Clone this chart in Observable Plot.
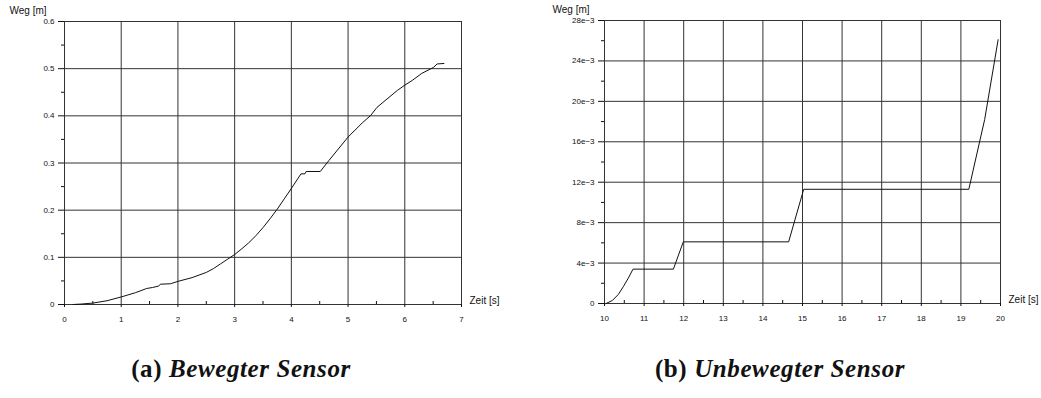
<!DOCTYPE html>
<html><head><meta charset="utf-8">
<script src="https://cdn.jsdelivr.net/npm/d3@7"></script>
<script src="https://cdn.jsdelivr.net/npm/@observablehq/plot@0.6"></script>
<style>
body{margin:0;background:#fff;}
#wrap{position:relative;width:1041px;height:398px;overflow:hidden;background:#fff;}
.p{position:absolute;top:0;}
.cap{position:absolute;top:355px;font-family:"Liberation Serif","Times New Roman",serif;font-weight:bold;font-size:25px;letter-spacing:0.6px;white-space:nowrap;transform:translateX(-50%);color:#111;}
.cap i{font-style:italic;}
</style></head><body>
<div id="wrap">
<div id="a" class="p" style="left:0"></div>
<div id="b" class="p" style="left:520px"></div>
<div class="cap" style="left:241px">(a) <i>Bewegter Sensor</i></div>
<div class="cap" style="left:780px">(b) <i>Unbewegter Sensor</i></div>
</div>
<script>
// ---- data: (a) Bewegter Sensor ----
const timeA = [0.15, 0.3, 0.5, 0.75, 1.0, 1.25, 1.45, 1.55, 1.66, 1.69, 1.87, 2.0, 2.25, 2.5, 2.625, 2.75, 2.875, 3.0, 3.125, 3.25, 3.375, 3.5, 3.625, 3.75, 3.875, 4.0, 4.17, 4.24, 4.26, 4.51, 4.66, 5.0, 5.25, 5.4, 5.51, 5.87, 6.0, 6.13, 6.3, 6.51, 6.57, 6.69];
const wegA  = [0, 0.001, 0.003, 0.008, 0.016, 0.025, 0.034, 0.036, 0.039, 0.043, 0.044, 0.049, 0.057, 0.068, 0.076, 0.086, 0.096, 0.106, 0.118, 0.131, 0.146, 0.163, 0.182, 0.202, 0.224, 0.246, 0.277, 0.277, 0.282, 0.282, 0.305, 0.355, 0.385, 0.401, 0.418, 0.454, 0.465, 0.475, 0.49, 0.503, 0.51, 0.511];
const xMajorA = [0, 1, 2, 3, 4, 5, 6, 7];
const xMinorA = [0.5, 1.5, 2.5, 3.5, 4.5, 5.5, 6.5];
const yMajorA = [0, 0.1, 0.2, 0.3, 0.4, 0.5, 0.6];
const yLabelsA = ["0", "0.1", "0.2", "0.3", "0.4", "0.5", "0.6"];
const yMinorA = [0.05, 0.15, 0.25, 0.35, 0.45, 0.55];

// ---- data: (b) Unbewegter Sensor ----
const timeB = [10.04, 10.2, 10.35, 10.48, 10.6, 10.72, 11.74, 11.99, 14.65, 15.03, 19.2, 19.6, 19.94];
const wegB  = [0, 0.0003, 0.0009, 0.0017, 0.0025, 0.0034, 0.0034, 0.0061, 0.0061, 0.0113, 0.0113, 0.0182, 0.0261];
const xMajorB = [10, 11, 12, 13, 14, 15, 16, 17, 18, 19, 20];
const xMinorB = [10.5, 11.5, 12.5, 13.5, 14.5, 15.5, 16.5, 17.5, 18.5, 19.5];
const yMajorB = [0, 0.004, 0.008, 0.012, 0.016, 0.020, 0.024, 0.028];
const yLabelsB = ["0", "4e\u22123", "8e\u22123", "12e\u22123", "16e\u22123", "20e\u22123", "24e\u22123", "28e\u22123"];
const yMinorB = [0.002, 0.006, 0.010, 0.014, 0.018, 0.022, 0.026];

const yLabel = "Weg [m]";
const xLabel = "Zeit [s]";

function chart(o) {
  const rows = o.time.map((t, i) => ({t, v: o.weg[i]}));
  const fmt = d => o.yLabels[o.yMajor.findIndex(m => Math.abs(m - d) < 1e-9)];
  const grid = {stroke: "#333", strokeOpacity: 1, strokeWidth: 1};
  return Plot.plot({
    width: o.width, height: 330,
    marginLeft: o.ml, marginRight: o.mr, marginTop: o.mt, marginBottom: 330 - o.mt - 283,
    style: {fontFamily: "'Liberation Sans', Arial, sans-serif", fontSize: "8px", color: "#111", background: "white", overflow: "visible"},
    x: {domain: o.xDomain},
    y: {domain: o.yDomain},
    marks: [
      Plot.gridX(o.xMajor, grid),
      Plot.gridY(o.yMajor, grid),
      Plot.axisY(o.yMajor, {tickSize: 6, tickPadding: 4, tickFormat: fmt, label: null}),
      Plot.axisY(o.yMinor, {tickSize: 3, tickFormat: () => "", label: null}),
      Plot.axisX(o.xMajor, {tickSize: 3, tickPadding: 9, label: null}),
      Plot.axisX(o.xMinor, {tickSize: -3, tickFormat: () => "", label: null}),
      Plot.line(rows, {x: "t", y: "v", stroke: "#111", strokeWidth: 1}),
      Plot.text([yLabel], {text: d => d, frameAnchor: "top-left", dx: o.ylDx, dy: -8, textAnchor: "start", lineAnchor: "bottom", fontSize: 10}),
      Plot.text([xLabel], {text: d => d, frameAnchor: "bottom-right", dx: 8, dy: -1, textAnchor: "start", lineAnchor: "bottom", fontSize: 10})
    ]
  });
}

document.getElementById("a").append(chart({
  time: timeA, weg: wegA, xDomain: [0, 7], yDomain: [0, 0.6],
  xMajor: xMajorA, xMinor: xMinorA, yMajor: yMajorA, yLabels: yLabelsA, yMinor: yMinorA,
  width: 520, ml: 64, mr: 59, mt: 21, ylDx: -55
}));
document.getElementById("b").append(chart({
  time: timeB, weg: wegB, xDomain: [10, 20], yDomain: [0, 0.028],
  xMajor: xMajorB, xMinor: xMinorB, yMajor: yMajorB, yLabels: yLabelsB, yMinor: yMinorB,
  width: 521, ml: 84, mr: 41, mt: 20, ylDx: -52
}));
</script>
</body></html>
